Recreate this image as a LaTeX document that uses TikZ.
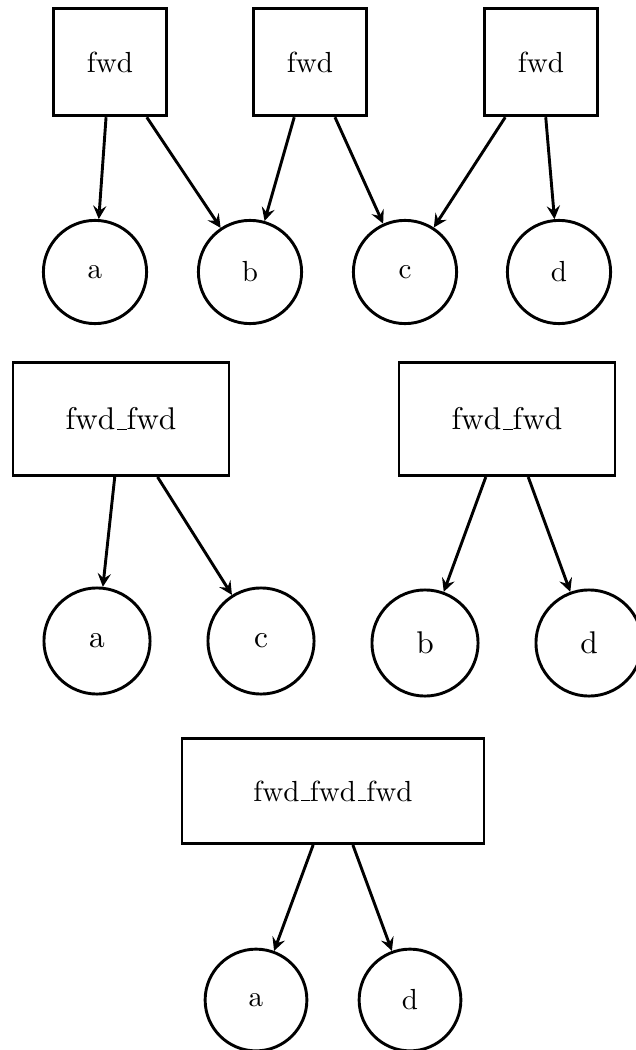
\documentclass[tikz,border=0pt]{standalone}
\usetikzlibrary{arrows}

% trattino basso corto, come in OT1
\newcommand{\us}{\leavevmode\kern.06em\vbox{\hrule width.3em height .4pt}}

\begin{document}
\begin{tikzpicture}[
        x=0.344pt, y=-0.344pt,
        line width=1pt,
        >=stealth,
        op/.style={draw, rectangle, inner sep=2pt},
        var/.style={draw, circle, minimum size=35.5pt, inner sep=0pt}
    ]

    \useasboundingbox (0,0) rectangle (636,1050);

    % --- Prima riga: tre fwd ---
    \node[op, minimum width=39pt, minimum height=37pt] (f1) at (110,62) {fwd};
    \node[op, minimum width=39pt, minimum height=37pt] (f2) at (310,62) {fwd};
    \node[op, minimum width=39pt, minimum height=37pt] (f3) at (541,62) {fwd};

    \node[var] (a1) at (95,272) {a};
    \node[var] (b1) at (250,272) {b};
    \node[var] (c1) at (405,272) {c};
    \node[var] (d1) at (559,272) {d};

    \draw[->] (f1) -- (a1);
    \draw[->] (f1) -- (b1);
    \draw[->] (f2) -- (b1);
    \draw[->] (f2) -- (c1);
    \draw[->] (f3) -- (c1);
    \draw[->] (f3) -- (d1);

    % --- Seconda riga: fwd_fwd (un po' piu' grande) ---
    \begin{scope}[font=\fontsize{10.8}{13}\selectfont]
    \node[op, minimum width=74.3pt, minimum height=38.9pt] (ff1) at (121,419) {fwd\us fwd};
    \node[op, minimum width=74.3pt, minimum height=38.9pt] (ff2) at (507,419) {fwd\us fwd};

    \node[var, minimum size=36.5pt] (a2) at (97,641) {a};
    \node[var, minimum size=36.5pt] (c2) at (261,641) {c};
    \node[var, minimum size=36.5pt] (b2) at (425,643) {b};
    \node[var, minimum size=36.5pt] (d2) at (589,643) {d};
    \end{scope}

    \draw[->] (ff1) -- (a2);
    \draw[->] (ff1) -- (c2);
    \draw[->] (ff2) -- (b2);
    \draw[->] (ff2) -- (d2);

    % --- Terza riga: fwd_fwd_fwd ---
    \node[op, minimum width=103.9pt, minimum height=36.1pt] (fff) at (333,791) {fwd\us fwd\us fwd};

    \node[var, minimum size=35pt] (a3) at (256,1000) {a};
    \node[var, minimum size=35pt] (d3) at (410,1000) {d};

    \draw[->] (fff) -- (a3);
    \draw[->] (fff) -- (d3);

\end{tikzpicture}
\end{document}
